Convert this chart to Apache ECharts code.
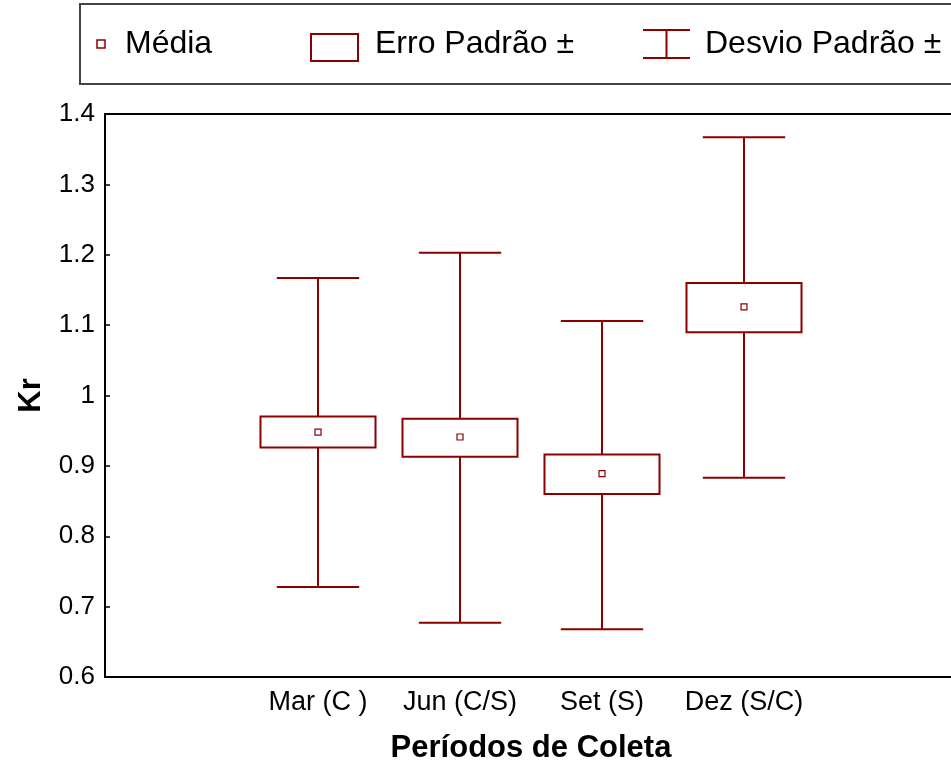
<!DOCTYPE html>
<html>
<head>
<meta charset="utf-8">
<script src="https://cdn.jsdelivr.net/npm/echarts@6/dist/echarts.min.js"></script>
<style>
  html, body { margin: 0; padding: 0; background: #fff; }
  #main { width: 951px; height: 760px; }
</style>
</head>
<body>
<div id="main"></div>
<script>
// dados
var categorias = ["", "Mar (C )", "Jun (C/S)", "Set (S)", "Dez (S/C)", ""];
var media = [0.948, 0.941, 0.889, 1.126];
var erroInf = [0.926, 0.913, 0.860, 1.090];
var erroSup = [0.970, 0.967, 0.916, 1.160];
var desvioInf = [0.728, 0.677, 0.668, 0.883];
var desvioSup = [1.167, 1.203, 1.106, 1.367];

var cor = "#8b0000";

var chartDom = document.getElementById("main");
var myChart = echarts.init(chartDom);

// cada ponto: [indice da categoria, desvio-, erro-, media, erro+, desvio+]
var pontos = media.map(function (m, i) {
  return [i + 1, desvioInf[i], erroInf[i], m, erroSup[i], desvioSup[i]];
});

function renderBox(params, api) {
  var x = api.value(0);
  var pLow = api.coord([x, api.value(1)]);
  var pBoxLow = api.coord([x, api.value(2)]);
  var pMean = api.coord([x, api.value(3)]);
  var pBoxHigh = api.coord([x, api.value(4)]);
  var pHigh = api.coord([x, api.value(5)]);
  var slot = api.size([1, 0])[0];
  var boxW = slot * 0.81;
  var capW = slot * 0.58;
  var cx = pMean[0];
  var ls = { stroke: cor, lineWidth: 2, fill: null };
  return {
    type: "group",
    children: [
      { type: "line", shape: { x1: cx, y1: pHigh[1], x2: cx, y2: pBoxHigh[1] }, style: ls },
      { type: "line", shape: { x1: cx, y1: pBoxLow[1], x2: cx, y2: pLow[1] }, style: ls },
      { type: "line", shape: { x1: cx - capW / 2, y1: pHigh[1], x2: cx + capW / 2, y2: pHigh[1] }, style: ls },
      { type: "line", shape: { x1: cx - capW / 2, y1: pLow[1], x2: cx + capW / 2, y2: pLow[1] }, style: ls },
      {
        type: "rect",
        shape: { x: cx - boxW / 2, y: pBoxHigh[1], width: boxW, height: pBoxLow[1] - pBoxHigh[1] },
        style: { stroke: cor, lineWidth: 2, fill: "#fff" }
      },
      {
        type: "rect",
        shape: { x: cx - 3, y: pMean[1] - 3, width: 6, height: 6 },
        style: { stroke: cor, lineWidth: 1.2, fill: "#fff" }
      }
    ]
  };
}

var fonte = "Liberation Sans, Arial, sans-serif";

var option = {
  animation: false,
  backgroundColor: "#fff",
  grid: { left: 105, top: 114, width: 852, height: 563, containLabel: false, outerBoundsMode: "none" },
  graphic: [
    {
      type: "rect",
      shape: { x: 80, y: 4, width: 900, height: 80 },
      style: { stroke: "#444", lineWidth: 2, fill: "#fff" }
    },
    {
      type: "rect",
      shape: { x: 97, y: 40, width: 8, height: 8 },
      style: { stroke: cor, lineWidth: 1.5, fill: "#fff" }
    },
    {
      type: "text", x: 125, y: 44,
      style: { text: "Média", font: "32px " + fonte, fill: "#000", verticalAlign: "middle" }
    },
    {
      type: "rect",
      shape: { x: 311, y: 34, width: 47, height: 27 },
      style: { stroke: cor, lineWidth: 2, fill: "#fff" }
    },
    {
      type: "text", x: 375, y: 44,
      style: { text: "Erro Padrão ±", font: "32px " + fonte, fill: "#000", verticalAlign: "middle" }
    },
    {
      type: "group",
      children: [
        { type: "line", shape: { x1: 643, y1: 30, x2: 690, y2: 30 }, style: { stroke: cor, lineWidth: 2 } },
        { type: "line", shape: { x1: 643, y1: 58, x2: 690, y2: 58 }, style: { stroke: cor, lineWidth: 2 } },
        { type: "line", shape: { x1: 666.5, y1: 30, x2: 666.5, y2: 58 }, style: { stroke: cor, lineWidth: 2 } }
      ]
    },
    {
      type: "text", x: 705, y: 44,
      style: { text: "Desvio Padrão ±", font: "32px " + fonte, fill: "#000", verticalAlign: "middle" }
    }
  ],
  xAxis: [
    {
      type: "category",
      data: categorias,
      position: "bottom",
      boundaryGap: true,
      name: "Períodos de Coleta",
      nameLocation: "middle",
      nameGap: 56,
      nameTextStyle: { fontFamily: fonte, fontSize: 31, fontWeight: "bold", color: "#000" },
      axisLine: { lineStyle: { color: "#000", width: 2 } },
      axisTick: { alignWithLabel: true, inside: true, length: 5, interval: 0, lineStyle: { color: "#000", width: 1.5 } },
      axisLabel: { interval: 0, margin: 12, fontFamily: fonte, fontSize: 27, color: "#000" },
      splitLine: { show: false }
    },
    {
      type: "category",
      data: categorias,
      position: "top",
      boundaryGap: true,
      axisLine: { lineStyle: { color: "#000", width: 2 } },
      axisTick: { alignWithLabel: true, inside: true, length: 5, interval: 0, lineStyle: { color: "#000", width: 1.5 } },
      axisLabel: { show: false },
      splitLine: { show: false }
    }
  ],
  yAxis: [
    {
      type: "value",
      min: 0.6,
      max: 1.4,
      interval: 0.1,
      position: "left",
      name: "Kr",
      nameLocation: "middle",
      nameGap: 58,
      nameTextStyle: { fontFamily: fonte, fontSize: 31, fontWeight: "bold", color: "#000" },
      axisLine: { show: true, lineStyle: { color: "#000", width: 2 } },
      axisTick: { show: true, inside: true, length: 5, lineStyle: { color: "#000", width: 1.5 } },
      axisLabel: {
        margin: 10, fontFamily: fonte, fontSize: 26, color: "#000",
        formatter: function (v) { return String(Math.round(v * 10) / 10); }
      },
      splitLine: { show: false }
    },
    {
      type: "value",
      min: 0.6,
      max: 1.4,
      interval: 0.1,
      position: "right",
      axisLine: { show: true, lineStyle: { color: "#000", width: 2 } },
      axisTick: { show: true, inside: true, length: 5, lineStyle: { color: "#000", width: 1.5 } },
      axisLabel: { show: false },
      splitLine: { show: false }
    }
  ],
  series: [
    {
      name: "Kr",
      type: "custom",
      renderItem: renderBox,
      encode: { x: 0, y: [1, 2, 3, 4, 5] },
      data: pontos,
      z: 5
    }
  ]
};

option && myChart.setOption(option);
</script>
</body>
</html>
